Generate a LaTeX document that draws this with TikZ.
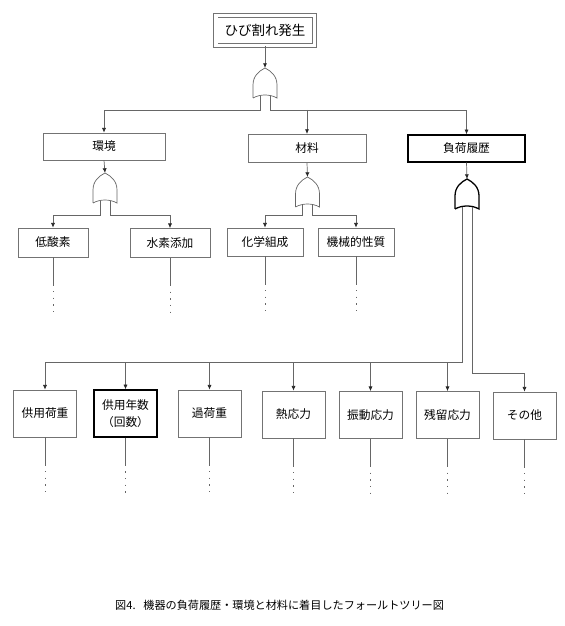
\documentclass[tikz,border=0pt]{standalone}
\usepackage{fontspec}
\newfontfamily\jpfont{Noto Sans CJK JP}
\usetikzlibrary{arrows.meta,calc}
\tikzset{
  box/.style={draw=black!55, line width=0.6pt, fill=white, inner sep=1pt, align=center,
    minimum width=1.89cm, minimum height=1.41cm, font=\jpfont\fontsize{10}{14}\selectfont},
  boldbox/.style={box, draw=black, line width=1.2pt},
  wire/.style={draw=black!60, line width=0.6pt},
  arr/.style={wire, -{Latex[length=4pt,width=3.5pt,color=black!85]}},
  leaf/.style={wire, dash pattern=on 1.2pt off 4.5pt},
  orgate/.pic={
    \draw[pic actions] (-12,30) -- (-12,17) .. controls (-12,8) and (-6,3) .. (0,0)
      .. controls (6,3) and (12,8) .. (12,17) -- (12,30) .. controls (5,26) and (-5,26) .. (-12,30);
    \coordinate (-tip) at (0,0);
    \coordinate (-l) at (-5,27.8);
    \coordinate (-r) at (5,27.8);
  }
}
\begin{document}
\begin{tikzpicture}[x=0.03cm, y=-0.03cm]
\useasboundingbox (0,0) rectangle (564,626);

% top event
\node[box, double, double distance=0.1cm, minimum width=2.95cm, minimum height=0.9cm,
  font=\jpfont\fontsize{11.5}{14}\selectfont] (crack) at (265,30.5) {ひび割れ発生};

% second level
\node[box, minimum width=3.66cm, minimum height=0.81cm] (env) at (104,146.5) {環境};
\node[box, minimum width=3.54cm, minimum height=0.85cm] (mat) at (307,148.5) {材料};
\node[boldbox, minimum width=3.51cm, minimum height=0.81cm] (load) at (466.5,148.5) {負荷履歴};

\node[box, minimum width=2.1cm, minimum height=0.87cm] (low) at (53,242.5) {低酸素};
\node[box, minimum width=2.4cm, minimum height=0.87cm] (hyd) at (170,243) {水素添加};
\node[box, minimum width=2.28cm, minimum height=0.84cm] (chem) at (265,242) {化学組成};
\node[box, minimum width=2.28cm, minimum height=0.84cm] (mech) at (356,242) {機械的性質};

% causes of load history
\node[box] (b1) at (45,413.5) {供用荷重};
\node[boldbox] (b2) at (125.5,413.5) {供用年数\\（回数）};
\node[box] (b3) at (209.5,413.5) {過荷重};
\node[box] (b4) at (293.5,414.5) {熱応力};
\node[box] (b5) at (370.5,415) {振動応力};
\node[box] (b6) at (447.5,415) {残留応力};
\node[box] (b7) at (524.5,415.5) {その他};

% gates
\pic[wire] (g0) at (265,68) {orgate};
\pic[wire] (g1) at (105,173) {orgate};
\pic[wire] (g2) at (307.5,177) {orgate};
\pic[draw=black, line width=1.1pt] (g3) at (467,179) {orgate};

\coordinate (j0) at (265,110);
\coordinate (j1) at (105,215);
\coordinate (j2) at (307.5,215);
\coordinate (j3) at (467,362);
\coordinate (j4) at (467,373);

\draw[arr] (crack) -- (g0-tip);
\draw[arr] (g0-l) |- (env |- j0) -- (env);
\draw[arr] (g0-r) |- (load |- j0) -- (load);
\draw[arr] (mat |- j0) -- (mat);

\draw[arr] (env.south) -- (g1-tip);
\draw[arr] (mat.south) -- (g2-tip);
\draw[arr] (load.south) -- (g3-tip);

\draw[arr] (g1-l) |- (low |- j1) -- (low);
\draw[arr] (g1-r) |- (hyd |- j1) -- (hyd);
\draw[arr] (g2-l) |- (chem |- j2) -- (chem);
\draw[arr] (g2-r) |- (mech |- j2) -- (mech);

\draw[arr] (g3-l) |- (b1 |- j3) -- (b1);
\foreach \b in {b2,b3,b4,b5,b6}
  \draw[arr] (\b |- j3) -- (\b);
\draw[arr] (g3-r) |- (b7 |- j4) -- (b7);

% open ends
\foreach \b in {low,hyd,chem,mech,b1,b2,b3,b4,b5,b6,b7} {
  \draw[wire] (\b.south) -- ++(0,27) coordinate (\b-d);
  \draw[leaf] (\b-d) -- ++(0,32);
}

\node[anchor=west, inner sep=0pt, font=\jpfont\fontsize{9.5}{11}\selectfont] (cap) at (115,605)
  {図4.\hspace{0.7em}機器の負荷履歴・環境と材料に着目したフォールトツリー図};
\end{tikzpicture}
\end{document}
